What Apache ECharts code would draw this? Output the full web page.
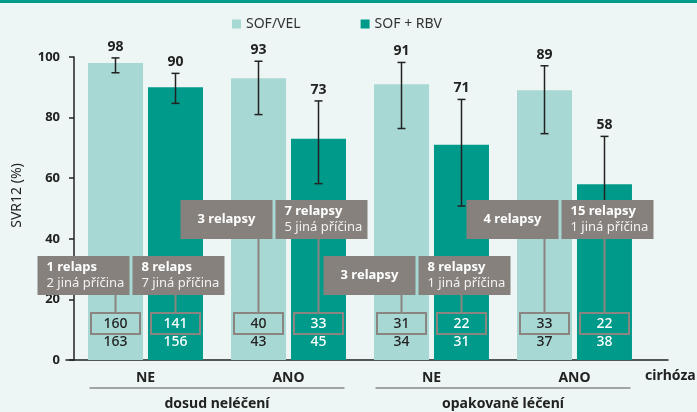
<!DOCTYPE html>
<html>
<head>
<meta charset="utf-8">
<script src="https://cdn.jsdelivr.net/npm/echarts@6/dist/echarts.min.js"></script>
<style>
  html, body { margin: 0; padding: 0; background: #edf6f4; }
  #chart { width: 697px; height: 412px; }
</style>
</head>
<body>
<div id="chart"></div>
<script>
// cirhóza NE / ANO, split into previously untreated and retreated
const categories = ["NE", "ANO", "NE", "ANO"];
const groups = [[0, 1, "dosud neléčení"], [2, 3, "opakovaně léčení"]];
const seriesNames = ["SOF/VEL", "SOF + RBV"];

const sofVel = [98, 93, 91, 89];
const sofVelLow = [94.8, 81, 76.4, 74.7];
const sofVelHigh = [99.7, 98.6, 98.2, 97.1];
const sofVelCured = [160, 40, 31, 33];
const sofVelTotal = [163, 43, 34, 37];
const sofVelFail = [["1 relaps", "2 jiná příčina"], ["3 relapsy"], ["3 relapsy"], ["4 relapsy"]];

const sofRbv = [90, 73, 71, 58];
const sofRbvLow = [84.7, 58.2, 50.8, 42.2];
const sofRbvHigh = [94.6, 85.5, 86, 73.8];
const sofRbvCured = [141, 33, 22, 22];
const sofRbvTotal = [156, 45, 31, 38];
const sofRbvFail = [["8 relaps", "7 jiná příčina"], ["7 relapsy", "5 jiná příčina"], ["8 relapsy", "1 jiná příčina"], ["15 relapsy", "1 jiná příčina"]];

const yTicks = [0, 20, 40, 60, 80, 100];

const LIGHT = "#a7d8d3";
const DARK = "#009a8a";
const BOXGREY = "#86817d";
const FONT = "Noto Sans";

// error bars + value above them
function errorSeries(values, lows, highs, offset) {
  return {
    type: "custom",
    z: 5,
    data: values.map((v, i) => [i, lows[i], highs[i], v]),
    encode: { x: 0, y: [1, 2] },
    renderItem: function (params, api) {
      const lo = api.coord([api.value(0), api.value(1)]);
      const hi = api.coord([api.value(0), api.value(2)]);
      const x = lo[0] + offset;
      const st = { stroke: "#222", lineWidth: 1.5 };
      return {
        type: "group",
        children: [
          { type: "line", shape: { x1: x, y1: lo[1], x2: x, y2: hi[1] }, style: st },
          { type: "line", shape: { x1: x - 4, y1: lo[1], x2: x + 4, y2: lo[1] }, style: st },
          { type: "line", shape: { x1: x - 4, y1: hi[1], x2: x + 4, y2: hi[1] }, style: st },
          {
            type: "text",
            style: {
              x: x, y: hi[1] - 11, text: String(api.value(3)),
              align: "center", verticalAlign: "middle",
              font: "bold 14px '" + FONT + "'", fill: "#222"
            }
          }
        ]
      };
    }
  };
}

// grey relapse boxes and the n/N boxes at the bar foot
function noteSeries(fails, cured, totals, offset, boxShift, numColor) {
  return {
    type: "custom",
    z: 10,
    data: cured.map((c, i) => [i, 0]),
    encode: { x: 0, y: 1 },
    renderItem: function (params, api) {
      const i = params.dataIndex;
      const base = api.coord([i, 0]);
      const cx = base[0] + offset;
      const y0 = base[1];
      const boxTop = y0 - (i % 2 === 0 ? 104 : 160);
      const bx = cx + boxShift - 46;
      const lines = fails[i];
      const numFont = "500 14px '" + FONT + "'";
      const kids = [
        { type: "rect", shape: { x: bx, y: boxTop, width: 92, height: 39 }, style: { fill: BOXGREY } },
        { type: "line", shape: { x1: cx, y1: boxTop + 39, x2: cx, y2: y0 - 47 }, style: { stroke: "#8a8580", lineWidth: 2 } },
        { type: "rect", shape: { x: cx - 24.5, y: y0 - 47, width: 49, height: 21 }, style: { fill: "none", stroke: "#8a8580", lineWidth: 2 } },
        { type: "text", style: { x: cx, y: y0 - 36, text: String(cured[i]), align: "center", verticalAlign: "middle", font: numFont, fill: numColor } },
        { type: "text", style: { x: cx, y: y0 - 18, text: String(totals[i]), align: "center", verticalAlign: "middle", font: numFont, fill: numColor } }
      ];
      if (lines.length === 1) {
        kids.push({ type: "text", style: { x: bx + 46, y: boxTop + 19.5, text: lines[0], align: "center", verticalAlign: "middle", font: "bold 13px '" + FONT + "'", fill: "#fff" } });
      } else {
        kids.push({ type: "text", style: { x: bx + 9, y: boxTop + 11, text: lines[0], align: "left", verticalAlign: "middle", font: "bold 13px '" + FONT + "'", fill: "#fff" } });
        kids.push({ type: "text", style: { x: bx + 9, y: boxTop + 27, text: lines[1], align: "left", verticalAlign: "middle", font: "13px '" + FONT + "'", fill: "#f2f2f2" } });
      }
      return { type: "group", children: kids };
    }
  };
}

const chart = echarts.init(document.getElementById("chart"));

const option = {
  backgroundColor: "#edf6f4",
  animation: false,
  textStyle: { fontFamily: FONT },
  graphic: [
    { type: "rect", left: 0, top: 0, shape: { width: 697, height: 3 }, style: { fill: DARK } },
    { type: "text", left: 645, top: 369, style: { text: "cirhóza", font: "bold 14px '" + FONT + "'", fill: "#222" } }
  ],
  legend: {
    data: seriesNames,
    left: 227, top: 12,
    icon: "rect", itemWidth: 9, itemHeight: 9, itemGap: 60,
    textStyle: { fontSize: 14, color: "#333", fontFamily: FONT }
  },
  grid: [
    { left: 74, right: 51, top: 57, bottom: 52 },
    { left: 66, right: 29, top: 57, bottom: 52 }
  ],
  xAxis: [
    {
      type: "category", data: categories, gridIndex: 0,
      axisLine: { show: false }, axisTick: { show: false },
      axisLabel: { margin: 11, fontSize: 14, fontWeight: "bold", color: "#222", fontFamily: FONT }
    },
    {
      type: "value", gridIndex: 1, min: 0, max: 1,
      axisLine: { show: true, onZero: false, lineStyle: { color: "#222", width: 1.5 } },
      axisTick: { show: false }, axisLabel: { show: false }, splitLine: { show: false }
    }
  ],
  yAxis: [
    {
      type: "value", gridIndex: 0, min: 0, max: 100, interval: 20,
      name: "SVR12 (%)", nameLocation: "middle", nameGap: 50,
      nameTextStyle: { fontSize: 14, color: "#222", fontFamily: FONT, padding: [0, 0, 0, 26] },
      axisLine: { show: true, lineStyle: { color: "#222", width: 1.5 } },
      axisTick: { show: true, length: 5, lineStyle: { color: "#222", width: 1.5 } },
      axisLabel: {
        margin: 14, fontSize: 13, fontWeight: "bold", color: "#222", fontFamily: FONT,
        formatter: v => (yTicks.indexOf(v) >= 0 ? String(v) : "")
      },
      splitLine: { show: false }
    },
    { type: "value", gridIndex: 1, show: false }
  ],
  series: [
    { name: seriesNames[0], type: "bar", data: sofVel, barWidth: 55, barGap: "9%", itemStyle: { color: LIGHT } },
    { name: seriesNames[1], type: "bar", data: sofRbv, barWidth: 55, barGap: "9%", itemStyle: { color: DARK } },
    errorSeries(sofVel, sofVelLow, sofVelHigh, -30),
    errorSeries(sofRbv, sofRbvLow, sofRbvHigh, 30),
    noteSeries(sofVelFail, sofVelCured, sofVelTotal, -30, -32, "#222"),
    noteSeries(sofRbvFail, sofRbvCured, sofRbvTotal, 30, 3, "#fff"),
    {
      type: "custom",
      clip: false,
      data: groups,
      encode: { x: 0, y: -1 },
      renderItem: function (params, api) {
        const a = api.coord([api.value(0), 0]);
        const b = api.coord([api.value(1), 0]);
        const y = a[1] + 28;
        return {
          type: "group",
          children: [
            { type: "line", shape: { x1: a[0] - 56, y1: y, x2: b[0] + 56, y2: y }, style: { stroke: "#555", lineWidth: 1.2 } },
            {
              type: "text",
              style: {
                x: (a[0] + b[0]) / 2, y: y + 16, text: groups[params.dataIndex][2],
                align: "center", verticalAlign: "middle",
                font: "bold 14px '" + FONT + "'", fill: "#222"
              }
            }
          ]
        };
      }
    }
  ]
};

chart.setOption(option);
</script>
</body>
</html>
